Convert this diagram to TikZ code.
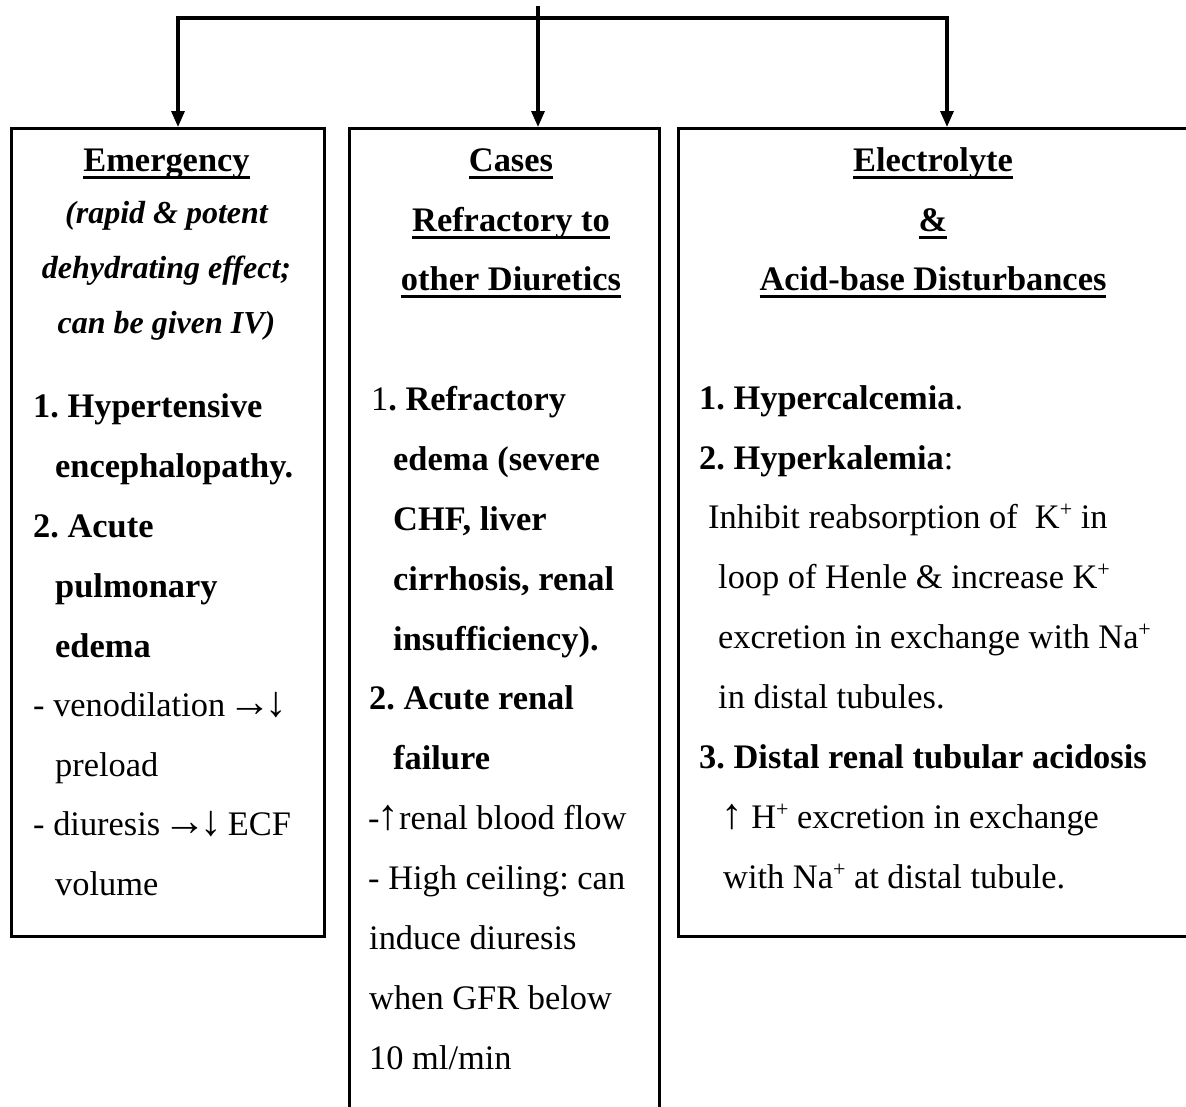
\documentclass[tikz,border=0pt]{standalone}
\usepackage{fontspec}
\setmainfont{Liberation Serif}
\newfontfamily\arrfont[Scale=1.25]{Liberation Serif}
\usetikzlibrary{arrows.meta}
\frenchspacing
\newcommand{\ulhead}[1]{\setbox0\hbox{#1}\rlap{\rule[-7.5pt]{\wd0}{3pt}}\box0}
\newcommand{\arrdn}{{\arrfont\kern-5pt→\kern-6pt↓\kern-3pt}}
\newcommand{\arrup}{{\arrfont\kern-2pt↑}}
\newcommand{\ion}{\raisebox{12pt}{\fontsize{22}{22}\selectfont +}}

\begin{document}
\begin{tikzpicture}[x=1pt,y=-1pt]
    \tikzstyle{panel}=[draw,line width=3.2pt,rectangle,inner sep=0pt,anchor=north west]
    \tikzstyle{link}=[line width=3.2pt,-{Triangle[length=16pt,width=13pt]}]
    \tikzstyle{txt}=[inner sep=0pt,anchor=base west,font=\fontsize{34.4}{40}\selectfont]
    \tikzstyle{txtb}=[txt,font=\fontsize{34.4}{40}\selectfont\bfseries]
    \tikzstyle{head}=[txtb,anchor=base]
    \tikzstyle{note}=[head,font=\fontsize{32}{40}\selectfont\bfseries\itshape]
    \useasboundingbox (0,0) rectangle (1186,1106);
    \clip (0,0) rectangle (1186,1106);
    % the three boxes
    \node[panel,minimum width=313pt,minimum height=808pt] (emerg) at (10,127) {};
    \node[panel,minimum width=310pt,minimum height=1100pt] (cases) at (348,127) {};
    \node[panel,minimum width=700pt,minimum height=808pt] (elec) at (677,127) {};
    % connectors
    \coordinate (src) at (538,6);
    \coordinate (bar) at (538,18);
    \coordinate (lft) at (178,18);
    \coordinate (rgt) at (947,18);
    \draw[link] (src) -- (src |- cases.north);
    \draw[link] (bar) -- (lft) -- (lft |- emerg.north);
    \draw[link] (bar) -- (rgt) -- (rgt |- elec.north);
    % left box
    \node[head] (e0) at (166.5,171) {\ulhead{Emergency}};
    \node[note] (e1) at (166.5,223) {(rapid \& potent};
    \node[note] (e2) at (166.5,278) {dehydrating effect;};
    \node[note] (e3) at (166.5,333) {can be given IV)};
    \node[txtb] (e4) at (33,417) {1. Hypertensive};
    \node[txtb] (e5) at (55,477) {encephalopathy.};
    \node[txtb] (e6) at (33,537) {2. Acute};
    \node[txtb] (e7) at (55,597) {pulmonary};
    \node[txtb] (e8) at (55,657) {edema};
    \node[txt] (e9) at (33,716) {- venodilation \arrdn};
    \node[txt] (e10) at (55,776) {preload};
    \node[txt] (e11) at (33,835) {- diuresis \arrdn{} ECF};
    \node[txt] (e12) at (55,895) {volume};
    % middle box
    \node[head] (c0) at (511,171) {\ulhead{Cases}};
    \node[head] (c1) at (511,231) {\ulhead{Refractory to}};
    \node[head] (c2) at (511,290) {\ulhead{other Diuretics}};
    \node[txt] (c3) at (371,410) {1\textbf{. Refractory}};
    \node[txtb] (c4) at (393,470) {edema (severe};
    \node[txtb] (c5) at (393,530) {CHF, liver};
    \node[txtb] (c6) at (393,590) {cirrhosis, renal};
    \node[txtb] (c7) at (393,650) {insufficiency).};
    \node[txtb] (c8) at (369,709) {2. Acute renal};
    \node[txtb] (c9) at (393,769) {failure};
    \node[txt] (c10) at (368,829) {-\arrup renal blood flow};
    \node[txt] (c11) at (368,889) {- High ceiling: can};
    \node[txt] (c12) at (369,949) {induce diuresis};
    \node[txt] (c13) at (369,1009) {when GFR below};
    \node[txt] (c14) at (369,1069) {10 ml/min};
    % right box
    \node[head] (x0) at (933,171) {\ulhead{Electrolyte}};
    \node[head] (x1) at (933,231) {\ulhead{\&}};
    \node[head] (x2) at (933,290) {\ulhead{Acid-base Disturbances}};
    \node[txt] (x3) at (699,409) {\textbf{1. Hypercalcemia}.};
    \node[txt] (x4) at (699,469) {\textbf{2. Hyperkalemia}:};
    \node[txt] (x5) at (708,528) {Inhibit reabsorption of\ \ K\ion{} in};
    \node[txt] (x6) at (718,588) {loop of Henle \& increase K\ion};
    \node[txt] (x7) at (718,648) {excretion in exchange with Na\ion};
    \node[txt] (x8) at (718,708) {in distal tubules.};
    \node[txtb] (x9) at (699,768) {3. Distal renal tubular acidosis};
    \node[txt] (x10) at (723,828) {\arrup{} H\ion{} excretion in exchange};
    \node[txt] (x11) at (723,888) {with Na\ion{} at distal tubule.};
\end{tikzpicture}
\end{document}
